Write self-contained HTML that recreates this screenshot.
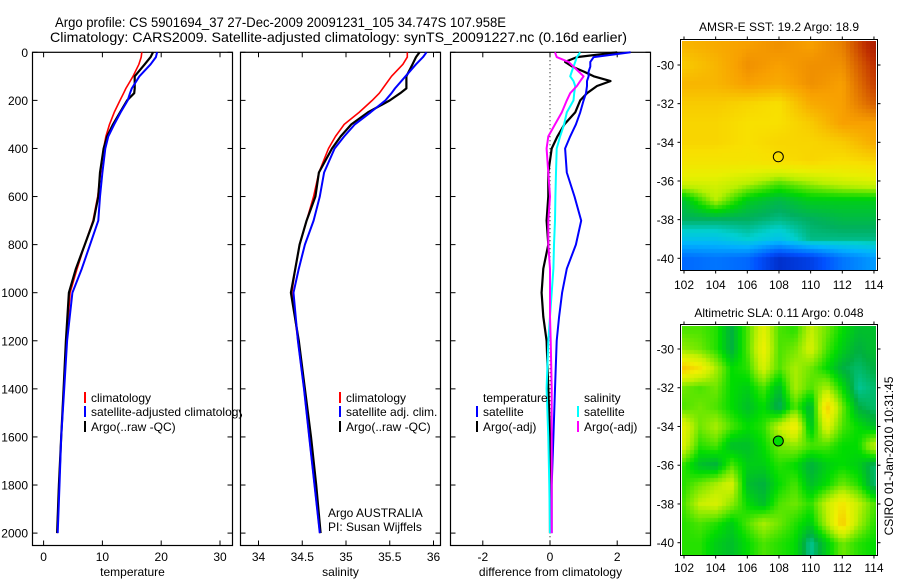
<!DOCTYPE html>
<html><head><meta charset="utf-8"><style>
html,body{margin:0;padding:0;background:#fff;}
svg text{font-family:"Liberation Sans",sans-serif;fill:#000;}
#wrap{position:relative;width:900px;height:580px;}
canvas{position:absolute;}
</style></head><body>
<div id="wrap">
<canvas id="sst" width="194" height="229" style="left:682px;top:41px"></canvas>
<canvas id="sla" width="194" height="229" style="left:682px;top:326px"></canvas>
<svg id="svg" width="900" height="580" style="position:absolute;left:0;top:0">
<defs><clipPath id="leg1clip"><rect x="0" y="0" width="242" height="580"/></clipPath></defs>
<text x="55" y="27" font-size="14" textLength="451" lengthAdjust="spacingAndGlyphs">Argo profile: CS 5901694_37 27-Dec-2009 20091231_105 34.747S 107.958E</text>
<text x="50" y="42" font-size="14" textLength="577" lengthAdjust="spacingAndGlyphs">Climatology: CARS2009. Satellite-adjusted climatology: synTS_20091227.nc (0.16d earlier)</text>
<g id="g"></g>
</svg>
</div>
<script>
// ---- profile data ----
const depthT = [0,20,50,100,150,170,200,250,300,350,400,500,600,700,800,900,1000,1200,1400,1600,1800,2000];
const tempClim = [16.7,16.6,16.2,15.2,14.0,13.6,13.0,12.0,11.2,10.6,10.2,9.7,9.2,8.4,7.0,5.7,4.5,3.9,3.4,3.0,2.6,2.3];
const tempSat = [19.3,19.1,18.2,16.3,15.0,14.7,14.3,13.1,12.0,11.0,10.5,10.0,9.6,9.3,7.9,6.5,4.9,4.0,3.5,3.0,2.7,2.4];
const tempArgo = [18.6,18.2,17.2,15.5,15.5,15.4,14.2,13.0,11.8,10.8,10.2,9.6,9.3,8.5,7.0,5.5,4.3,3.8,3.4,3.0,2.6,2.3];
const salClim = [35.70,35.70,35.65,35.52,35.42,35.38,35.30,35.15,34.98,34.88,34.80,34.69,34.63,34.55,34.47,34.42,34.38,34.45,34.52,34.58,34.64,34.70];
const salSat = [35.92,35.88,35.80,35.68,35.56,35.52,35.45,35.28,35.10,34.98,34.87,34.75,34.70,34.63,34.53,34.46,34.40,34.45,34.52,34.58,34.64,34.70];
const salArgo = [35.84,35.80,35.76,35.69,35.69,35.62,35.50,35.25,35.06,34.94,34.84,34.69,34.65,34.55,34.47,34.42,34.37,34.46,34.53,34.60,34.66,34.71];
const depthD = [0,20,40,60,80,100,120,140,170,200,250,300,350,400,500,600,700,800,900,1000,1100,1200,1400,1600,1800,2000];
const diffTempSat = [2.4,1.3,1.2,1.2,1.15,1.15,1.1,1.1,1.07,1.0,0.9,0.77,0.6,0.45,0.5,0.73,0.93,0.77,0.5,0.36,0.27,0.2,0.15,0.1,0.05,0.05];
const diffTempArgo = [2.0,0.8,0.45,0.67,1.0,1.3,1.8,1.4,1.1,0.9,0.75,0.43,0.22,0.05,-0.05,-0.05,-0.1,-0.05,-0.2,-0.25,-0.2,-0.1,-0.05,0,0,0];
const diffSalSat = [0.9,0.8,0.75,0.7,0.65,0.6,0.7,0.75,0.72,0.7,0.5,0.42,0.3,0.2,0.18,0.16,0.15,0.12,0.1,0.05,0.0,-0.05,-0.1,-0.05,-0.02,0];
const diffSalArgo = [0.15,0.2,0.55,0.7,0.85,1.0,0.9,0.8,0.6,0.5,0.35,0.15,-0.05,-0.1,-0.05,0,-0.05,-0.05,0,0,0,0.02,0.05,0.05,0.05,0.05];
const depthTicks = [0,200,400,600,800,1000,1200,1400,1600,1800,2000];
const tempTicks = [0,10,20,30];
const salTicks = [34,34.5,35,35.5,36];
const salTickLabels = ["34","34.5","35","35.5","36"];
const diffTicks = [-2,0,2];
// ---- map data ----
const mapLats = [-29,-30,-31,-32,-33,-34,-35,-36,-37,-38,-39,-40];
const sstLons = [102,104,106,108,110,112,114];
const sstGrid = [
[19.6,19.7,19.8,19.9,19.8,20.0,20.7],
[19.4,19.6,19.9,19.8,19.9,19.9,20.5],
[19.6,19.6,19.8,19.7,19.9,19.8,20.4],
[19.4,19.4,19.3,19.2,19.7,19.8,20.2],
[19.3,19.3,19.2,19.2,19.4,19.8,19.8],
[19.3,19.3,19.2,19.3,19.3,19.4,19.7],
[19.1,19.1,19.1,19.2,19.3,19.2,19.3],
[18.7,18.7,18.5,18.2,18.4,18.6,18.7],
[17.7,18.4,17.8,17.6,17.8,17.8,17.8],
[17.5,17.5,17.5,17.4,17.5,17.6,17.6],
[17.0,17.0,17.2,17.0,17.4,17.4,17.4],
[16.2,16.3,16.2,15.6,15.8,16.3,16.6]];
const slaLons = [102,103,104,105,106,107,108,109,110,111,112,113,114];
const slaGrid = [
[2,2,1,-3,2,8,2,1,6,3,0,-2,-2],
[4,3,1,-3,2,9,2,3,7,2,-1,-3,-2],
[12,10,5,0,1,7,2,5,3,0,-3,-4,-3],
[3,2,3,0,-1,2,-2,5,2,5,0,-5,-4],
[2,3,2,0,-2,0,-4,2,-3,12,3,-3,-4],
[8,3,5,2,0,1,6,10,-2,8,2,0,-2],
[7,1,2,-2,-2,0,3,4,2,2,0,0,6],
[1,-2,-3,2,-1,-1,1,0,-3,-1,0,-1,-4],
[1,3,5,7,-2,-3,0,2,-2,0,3,1,-4],
[2,6,7,4,0,-2,2,3,1,6,10,6,2],
[1,2,1,-1,2,5,3,1,-1,5,12,5,1],
[1,1,-1,-2,0,2,1,0,-5,-1,3,1,0]];
const argoLon = 107.958, argoLat = -34.747;
const mapLonTicks = [102,104,106,108,110,112,114];
const mapLatTicks = [-30,-32,-34,-36,-38,-40];

const NS = "http://www.w3.org/2000/svg";
const G = document.getElementById('g');
function mk(tag, attrs, parent){ const e=document.createElementNS(NS,tag); for(const k in attrs) e.setAttribute(k,attrs[k]); (parent||G).appendChild(e); return e; }
const yD = d => 52.3 + d*0.2404;
const xT = t => 43.6 + t*5.88;
const xS = s => 258.5 + (s-34)*87.5;
const xDf = v => 550 + v*33.6;

const panels = [
 {x0:32.5,x1:232.5,sx:xT,ticks:tempTicks,labels:tempTicks.map(String),title:"temperature",name:"temperature"},
 {x0:240.5,x1:440.5,sx:xS,ticks:salTicks,labels:salTickLabels,title:"salinity",name:"salinity"},
 {x0:450.5,x1:650.5,sx:xDf,ticks:diffTicks,labels:diffTicks.map(String),title:"difference from climatology",name:"difference"}];
const Y0=52.3, Y1=545.5;
panels.forEach((p,pi)=>{
  const fr = mk('rect',{x:p.x0,y:Y0,width:p.x1-p.x0,height:Y1-Y0,fill:'none',stroke:'#000','stroke-width':1.2});
  
  
  p.ticks.forEach((t,i)=>{
    const x=p.sx(t);
    mk('line',{x1:x,x2:x,y1:Y1,y2:Y1-5,stroke:'#000'});
    mk('line',{x1:x,x2:x,y1:Y0,y2:Y0+5,stroke:'#000'});
    const tl=mk('text',{x:x,y:561,'font-size':12,'text-anchor':'middle'}); tl.textContent=p.labels[i];
    
    
  });
  const at=mk('text',{x:(p.x0+p.x1)/2,y:576,'font-size':12,'text-anchor':'middle'}); at.textContent=p.title;
  
  
  depthTicks.forEach(d=>{
    const y=yD(d);
    mk('line',{x1:p.x0,x2:p.x0+5,y1:y,y2:y,stroke:'#000'});
    mk('line',{x1:p.x1,x2:p.x1-5,y1:y,y2:y,stroke:'#000'});
    if(pi===0){ const l=mk('text',{x:28,y:y+4.5,'font-size':12,'text-anchor':'end'}); l.textContent=String(d);
      
       }
  });
});
const zl = mk('line',{x1:xDf(0),x2:xDf(0),y1:Y0,y2:Y1,stroke:'#000','stroke-dasharray':'1,3'});



function series(depths, vals, sx, color, name, w){
  const pts = vals.map((v,i)=>sx(v).toFixed(1)+','+yD(depths[i]).toFixed(1)).join(' ');
  const pl = mk('polyline',{points:pts,fill:'none',stroke:color,'stroke-width':w||2,'stroke-linejoin':'round'});
  
  
}
series(depthT,tempClim,xT,'#f00','temp-climatology-line',1.6);
series(depthT,tempArgo,xT,'#000','temp-argo-line',2.2);
series(depthT,tempSat,xT,'#00f','temp-satellite-line');
series(depthT,salClim,xS,'#f00','sal-climatology-line',1.6);
series(depthT,salArgo,xS,'#000','sal-argo-line',2.2);
series(depthT,salSat,xS,'#00f','sal-satellite-line');
series(depthD,diffTempArgo,xDf,'#000','diff-temp-argo-line',2.2);
series(depthD,diffTempSat,xDf,'#00f','diff-temp-satellite-line');
series(depthD,diffSalSat,xDf,'#0ff','diff-sal-satellite-line');
series(depthD,diffSalArgo,xDf,'#f0f','diff-sal-argo-line');

function legend(x,y,color,label,clip){
  if(color){ const b=mk('rect',{x:x,y:y-10,width:2,height:11,fill:color});
    
     }
  const t=mk('text',{x:x+7,y:y,'font-size':12}); t.textContent=label;
  if(clip) t.setAttribute('clip-path','url(#leg1clip)');
  
  
}
legend(84,402,'#f00','climatology');
legend(84,416,'#00f','satellite-adjusted climatology',true);
legend(84,431,'#000','Argo(..raw -QC)');
legend(339,402,'#f00','climatology');
legend(339,416,'#00f','satellite adj. clim.');
legend(339,431,'#000','Argo(..raw -QC)');
legend(476,402,null,'temperature');
legend(577,402,null,'salinity');
legend(476,416,'#00f','satellite');
legend(476,431,'#000','Argo(-adj)');
legend(577,416,'#0ff','satellite');
legend(577,431,'#f0f','Argo(-adj)');
const a1=mk('text',{x:328,y:517,'font-size':12}); a1.textContent='Argo AUSTRALIA';


const a2=mk('text',{x:328,y:531,'font-size':12}); a2.textContent='PI: Susan Wijffels';



// ---- maps ----
function hex(h){return [parseInt(h.slice(1,3),16),parseInt(h.slice(3,5),16),parseInt(h.slice(5,7),16)];}
function cmap(stops, v){
  if(v<=stops[0][0]) return hex(stops[0][1]);
  for(let i=1;i<stops.length;i++){ if(v<=stops[i][0]){ const a=hex(stops[i-1][1]),b=hex(stops[i][1]); const f=(v-stops[i-1][0])/(stops[i][0]-stops[i-1][0]); return a.map((c,k)=>Math.round(c+(b[k]-c)*f)); } }
  return hex(stops[stops.length-1][1]);
}
const sstStops=[[15.2,'#00109a'],[16.0,'#0050ff'],[16.8,'#00b4ff'],[17.2,'#00d0d0'],[17.5,'#00b060'],[17.9,'#00d800'],[18.4,'#b8f000'],[18.8,'#e8f000'],[19.2,'#f8e000'],[19.5,'#f8c000'],[19.8,'#f8a000'],[20.1,'#e07000'],[20.5,'#c03000'],[21,'#900000']];
const slaStops=[[-6,'#00d0c0'],[-3,'#00b040'],[0,'#00dd00'],[3,'#70e800'],[6,'#c8f000'],[9,'#f0f000'],[12,'#f8c800']];
function interp(grid,lons,lon,lat){
  let r=(-29-lat); r=Math.max(0,Math.min(mapLats.length-1.0001,r));
  const step=lons[1]-lons[0];
  let c=(lon-lons[0])/step; c=Math.max(0,Math.min(lons.length-1.0001,c));
  const r0=Math.floor(r),c0=Math.floor(c),fr=r-r0,fc=c-c0;
  const g=(i,j)=>grid[i][j];
  return g(r0,c0)*(1-fr)*(1-fc)+g(r0,c0+1)*(1-fr)*fc+g(r0+1,c0)*fr*(1-fc)+g(r0+1,c0+1)*fr*fc;
}
function drawMap(id,grid,lons,stops,top,lat30y,pxLat){
  const ctx=document.getElementById(id).getContext('2d');
  const cell=4;
  for(let py=0;py<229;py+=cell){ for(let px=0;px<194;px+=cell){
    const X=682+px+cell/2, Y=top+py+cell/2;
    const lon=102+(X-684)/15.83, lat=-30-(Y-lat30y)/pxLat;
    const c=cmap(stops,interp(grid,lons,lon,lat));
    ctx.fillStyle='rgb('+c.join(',')+')'; ctx.fillRect(px,py,cell,cell);
  }}
}
drawMap('sst',sstGrid,sstLons,sstStops,41,65,19.33);
drawMap('sla',slaGrid,slaLons,slaStops,326,349,19.37);

const maps=[{y0:39.5,lat30:65,pl:19.33,title:'AMSR-E SST: 19.2 Argo: 18.9',ty:31,ly:289,fill:'none',name:'sst'},
            {y0:324.5,lat30:349,pl:19.37,title:'Altimetric SLA: 0.11 Argo: 0.048',ty:317,ly:572,fill:'#00dd00',name:'sla'}];
maps.forEach(m=>{
  const fr=mk('rect',{x:680.5,y:m.y0,width:197,height:231,fill:'none',stroke:'#000'});
  
  
  const t=mk('text',{x:779,y:m.ty,'font-size':12,'text-anchor':'middle'}); t.textContent=m.title;
  
  
  mapLonTicks.forEach(lon=>{
    const x=684+(lon-102)*15.83;
    mk('line',{x1:x,x2:x,y1:m.y0,y2:m.y0-3,stroke:'#000'});
    mk('line',{x1:x,x2:x,y1:m.y0+231,y2:m.y0+234,stroke:'#000'});
    const l=mk('text',{x:x,y:m.ly,'font-size':12,'text-anchor':'middle'}); l.textContent=String(lon);
    
    
  });
  mapLatTicks.forEach(lat=>{
    const y=m.lat30+(-30-lat)*m.pl;
    mk('line',{x1:680.5,x2:677.5,y1:y,y2:y,stroke:'#000'});
    mk('line',{x1:877.5,x2:880.5,y1:y,y2:y,stroke:'#000'});
    const l=mk('text',{x:674,y:y+4.5,'font-size':12,'text-anchor':'end'}); l.textContent=String(lat);
    
    
  });
  const cx=684+(argoLon-102)*15.83, cy=m.lat30+(-30-argoLat)*m.pl;
  const c=mk('circle',{cx:cx,cy:cy,r:5,fill:m.fill,stroke:'#000','stroke-width':1});
  
  
});
const st=mk('text',{x:0,y:0,'font-size':12,'text-anchor':'middle',transform:'translate(893,456) rotate(-90)'});
st.textContent='CSIRO 01-Jan-2010 10:31:45';


</script>
</body></html>
